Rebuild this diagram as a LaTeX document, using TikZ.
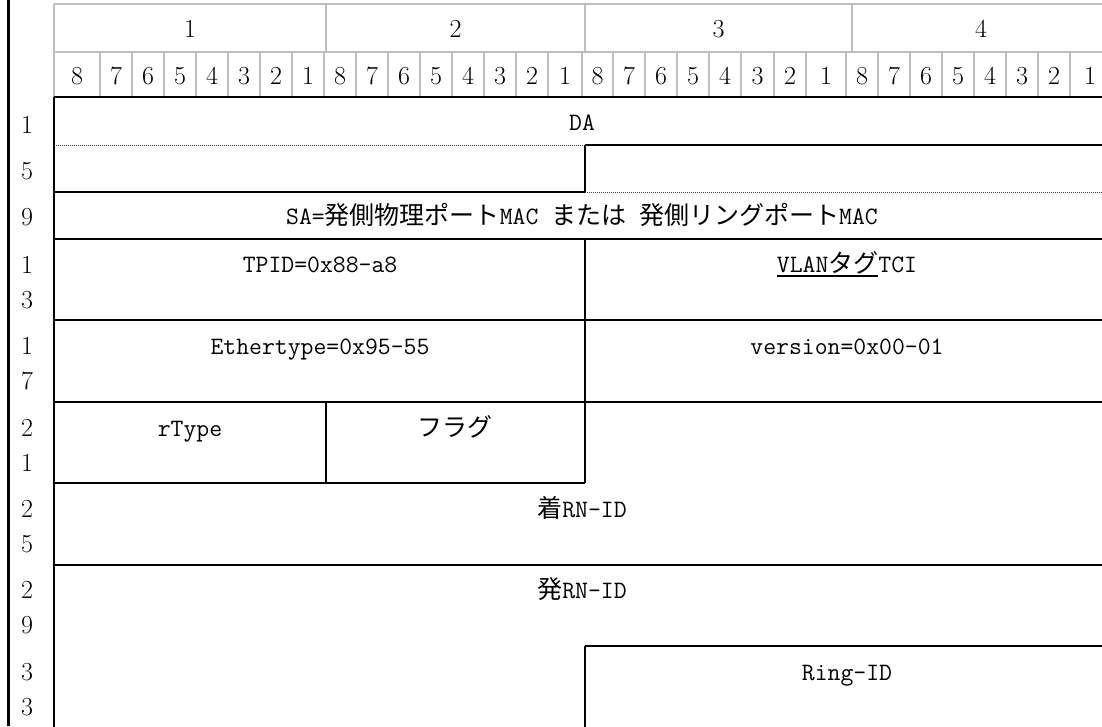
\documentclass[tikz,border=0pt]{standalone}
\usepackage{fontspec}
\newfontfamily\jp{Noto Sans CJK JP}
\newcommand\J[1]{{\jp #1}}
\newcommand\myul[1]{\setbox0\hbox{#1}\rlap{\rule[-5pt]{\wd0}{1.6pt}}\box0}
\begin{document}
\begin{tikzpicture}[x=1pt,y=-1pt,
  grayln/.style={draw=black!25, line width=2pt},
  blk/.style={draw=black, line width=2pt},
  dotln/.style={draw=black!75, densely dotted, line width=1pt},
  hdr/.style={font=\fontsize{26}{30}\selectfont, anchor=base, yshift=-9pt, inner sep=0pt},
  fld/.style={font=\fontsize{25}{30}\selectfont\ttfamily, anchor=base, yshift=-9pt, inner sep=0pt}]
\useasboundingbox (0,0) rectangle (1102,726);
\fill[white] (0,0) rectangle (1102,726);
\clip (0,0) rectangle (1102,726);

% left border
\draw[line width=3pt] (8,0) -- (8,726);

% header grid (gray)
\draw[grayln] (54,4) -- (1110,4);
\draw[grayln] (54,52) -- (1110,52);
\draw[grayln] (54,4) -- (54,97);
\foreach \x in {326,585,852} \draw[grayln] (\x,4) -- (\x,52);
\foreach \x in {100,132,164,196,228,260,292,324,356,388,420,452,484,516,548,582,613,645,677,709,741,774,806,846,878,910,942,974,1006,1038,1070}
  \draw[grayln] (\x,52) -- (\x,97);

% byte numbers
\node[hdr] (byte1) at (190,28) {1};
\node[hdr] (byte2) at (455.5,28) {2};
\node[hdr] (byte3) at (718.5,28) {3};
\node[hdr] (byte4) at (981,28) {4};

% bit numbers
\foreach \l/\r/\t [count=\i] in {54/100/8,100/132/7,132/164/6,164/196/5,196/228/4,228/260/3,260/292/2,292/324/1,
  324/356/8,356/388/7,388/420/6,420/452/5,452/484/4,484/516/3,516/548/2,548/582/1,
  582/613/8,613/645/7,645/677/6,677/709/5,709/741/4,741/774/3,774/806/2,806/846/1,
  846/878/8,878/910/7,910/942/6,942/974/5,974/1006/4,1006/1038/3,1038/1070/2,1070/1110/1}
  \node[hdr] (bit\i) at ({(\l+\r)/2},75) {\t};

% row labels
\foreach \y/\t [count=\i] in {124/1,170/5,216/9,264/1,299/3,345/1,380/7,427/2,462/1,508/2,543/5,589/2,624/9,671/3,706/3}
  \node[hdr] (row\i) at (27,\y) {\t};

% body lines
\draw[blk] (54,97) -- (1110,97);
\draw[blk] (54,97) -- (54,730);
\draw[dotln] (54,145) -- (585,145);
\draw[blk] (585,145) -- (1110,145);
\draw[blk] (585,145) -- (585,192);
\draw[blk] (54,192) -- (585,192);
\draw[dotln] (585,192) -- (1110,192);
\draw[blk] (54,238.5) -- (1110,238.5);
\draw[blk] (585,238.5) -- (585,483);
\draw[blk] (54,320) -- (1110,320);
\draw[blk] (54,401.5) -- (1110,401.5);
\draw[blk] (326,401.5) -- (326,483);
\draw[blk] (54,483) -- (585,483);
\draw[blk] (54,564.5) -- (1110,564.5);
\draw[blk] (585,646) -- (1110,646);
\draw[blk] (585,646) -- (585,730);

% field texts
\node[fld] (da) at (582,121) {DA};
\node[fld] (sa) at (582,215) {SA=\J{発側物理ポート}MAC \J{または} \J{発側リングポート}MAC};
\node[fld] (tpid) at (320,263) {TPID=0x88-a8};
\node[fld] (tci) at (847,263) {\myul{VLAN\J{タグ}}TCI};
\node[fld] (ether) at (320,345) {Ethertype=0x95-55};
\node[fld] (ver) at (847,345) {version=0x00-01};
\node[fld] (rtype) at (190,427) {rType};
\node[fld] (flag) at (455,427) {\J{フラグ}};
\node[fld] (dst) at (582,508) {\J{着}RN-ID};
\node[fld] (src) at (582,589) {\J{発}RN-ID};
\node[fld] (ring) at (847,671) {Ring-ID};
\end{tikzpicture}
\end{document}
